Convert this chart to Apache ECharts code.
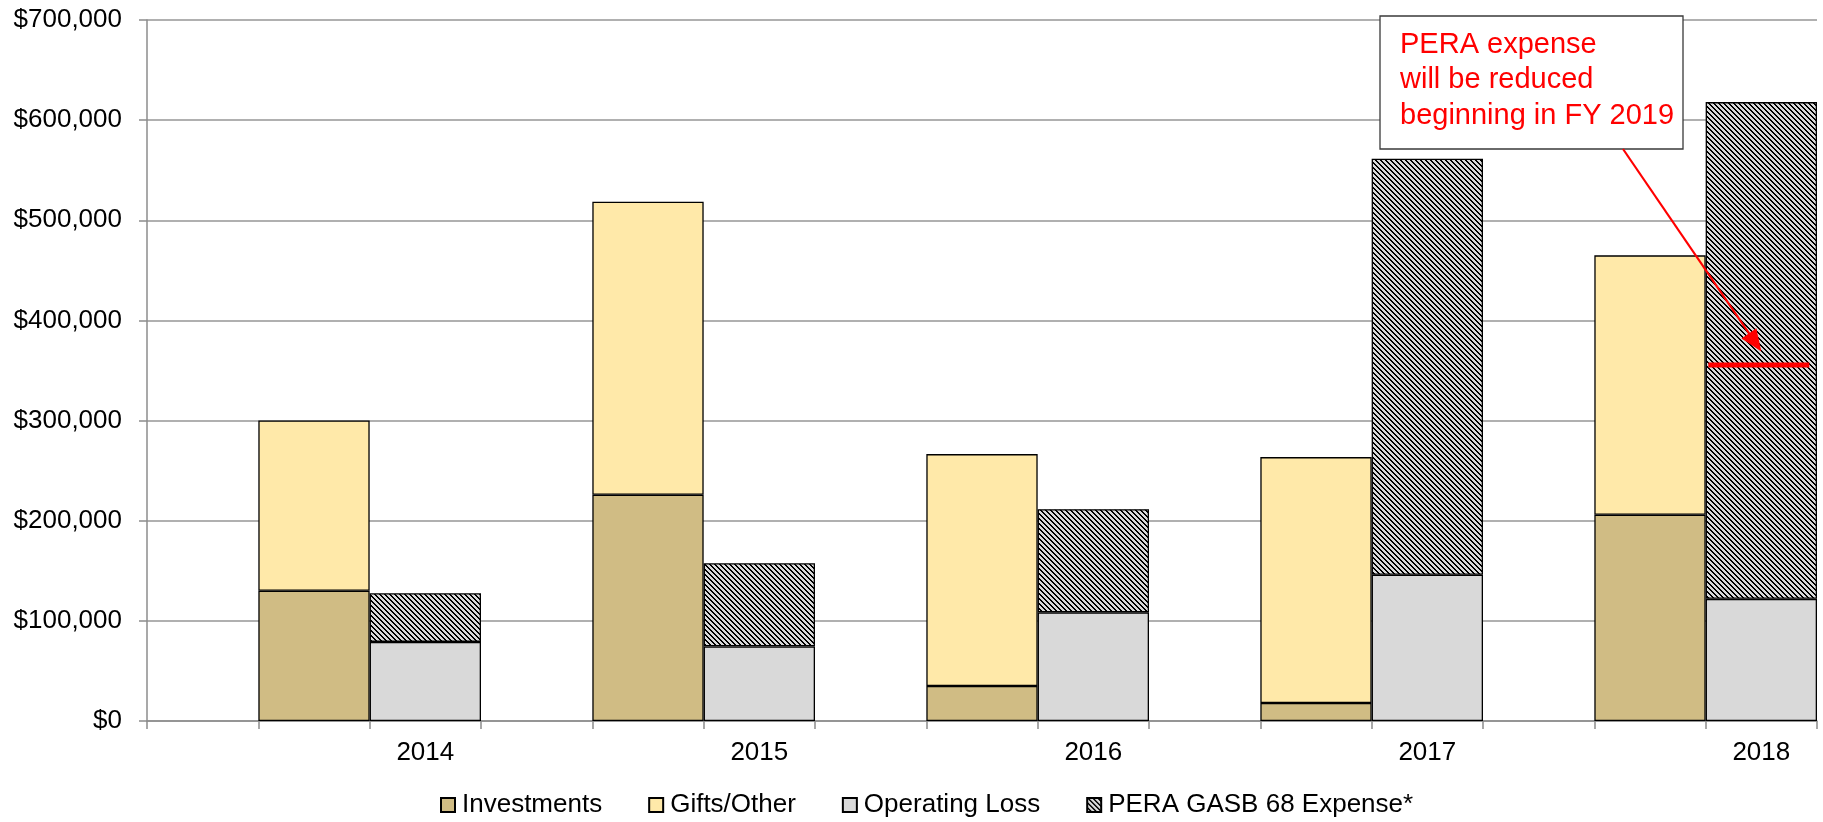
<!DOCTYPE html>
<html>
<head>
<meta charset="utf-8">
<script src="https://cdn.jsdelivr.net/npm/echarts@6/dist/echarts.min.js"></script>
<style>
  html, body { margin: 0; padding: 0; background: #fff; }
  #chart { width: 1823px; height: 822px; }
</style>
</head>
<body>
<div id="chart"></div>
<script>
// ---- data ----
const years = ['2014', '2015', '2016', '2017', '2018'];
const investments = [130000, 226000, 35000, 18000, 206000];
const giftsOther = [170000, 292500, 231500, 245500, 259000];
const operatingLoss = [79000, 74500, 108500, 146000, 122000];
const peraExpense = [48500, 83000, 103000, 415500, 496000];
const yTicks = { min: 0, max: 700000, interval: 100000 };
const seriesNames = ['Investments', 'Gifts/Other', 'Operating Loss', 'PERA GASB 68 Expense*'];
const noteText = ['PERA expense', 'will be reduced', 'beginning in FY 2019'];
const reducedPera = 355500;   // level of the red line on the 2018 PERA bar
const arrowTipValue = 369000; // arrow points to this level

// ---- build category slots: gap, left stack, right stack for each year ----
const cats = [];
years.forEach(y => { cats.push(y + '|gap', y + '|L', y + '|R'); });
function slot(arr, side) {
  const out = [];
  years.forEach((y, i) => {
    out.push('-');
    out.push(side === 'L' ? arr[i] : '-');
    out.push(side === 'R' ? arr[i] : '-');
  });
  return out;
}

// hatch pattern
function hatch() {
  const n = 5;
  const c = document.createElement('canvas');
  c.width = n; c.height = n;
  const ctx = c.getContext('2d');
  ctx.fillStyle = '#d9d9d9';
  ctx.fillRect(0, 0, n, n);
  ctx.fillStyle = '#000';
  for (let i = 0; i < n; i++) {
    ctx.fillRect(i, i, 1, 1);
    ctx.fillRect((i + 1) % n, i, 1, 1);
  }
  return c;
}

const FONT = '"Liberation Sans", Arial, sans-serif';
const border = { borderColor: '#000', borderWidth: 1.3 };

const chart = echarts.init(document.getElementById('chart'), null, { renderer: 'canvas' });
const option = {
  animation: false,
  backgroundColor: '#fff',
  textStyle: { fontFamily: FONT },
  grid: { left: 147, right: 6, top: 20, bottom: 101, outerBoundsMode: 'none' },
  legend: {
    top: 787,
    left: 435,
    icon: 'rect',
    itemWidth: 14,
    itemHeight: 14,
    itemGap: 46,
    textStyle: { fontSize: 26, color: '#000', fontFamily: FONT, padding: [0, 0, 0, 2] },
    data: seriesNames
  },
  xAxis: {
    type: 'category',
    data: cats,
    boundaryGap: true,
    axisLine: { show: true, lineStyle: { color: '#8c8c8c', width: 1.5 } },
    axisTick: { show: true, interval: 0, length: 8, lineStyle: { color: '#8c8c8c', width: 1.5 } },
    axisLabel: {
      interval: 0,
      margin: 19,
      fontSize: 26,
      color: '#000',
      fontFamily: FONT,
      formatter: v => v.endsWith('|R') ? v.split('|')[0] : ''
    },
    splitLine: { show: false }
  },
  yAxis: {
    type: 'value',
    min: yTicks.min,
    max: yTicks.max,
    interval: yTicks.interval,
    axisLine: { show: true, lineStyle: { color: '#8c8c8c', width: 1.5 } },
    axisTick: { show: true, length: 8, lineStyle: { color: '#8c8c8c', width: 1.5 } },
    axisLabel: {
      margin: 25,
      fontSize: 26,
      color: '#000',
      fontFamily: FONT,
      formatter: v => '$' + v.toLocaleString('en-US')
    },
    splitLine: { show: true, lineStyle: { color: '#969696', width: 1.5 } }
  },
  series: [
    { name: seriesNames[0], type: 'bar', stack: 'S', barCategoryGap: '0%', data: slot(investments, 'L'),
      itemStyle: Object.assign({ color: '#d0bc84' }, border) },
    { name: seriesNames[1], type: 'bar', stack: 'S', barCategoryGap: '0%', data: slot(giftsOther, 'L'),
      itemStyle: Object.assign({ color: '#ffe9a9' }, border) },
    { name: seriesNames[2], type: 'bar', stack: 'S', barCategoryGap: '0%', data: slot(operatingLoss, 'R'),
      itemStyle: Object.assign({ color: '#d9d9d9' }, border) },
    { name: seriesNames[3], type: 'bar', stack: 'S', barCategoryGap: '0%', data: slot(peraExpense, 'R'),
      itemStyle: Object.assign({ color: { image: hatch(), repeat: 'repeat' } }, border) }
  ]
};
chart.setOption(option);

// ---- annotations ----
const lastIdx = cats.length - 1;
const redLvl = chart.convertToPixel({ gridIndex: 0 }, [lastIdx, reducedPera]);
const tipPt = chart.convertToPixel({ gridIndex: 0 }, [lastIdx, arrowTipValue]);
const box = { x: 1380, y: 16, w: 303, h: 133 };
const start = [1623, box.y + box.h];
const tip = [tipPt[0], tipPt[1]];
const dx = tip[0] - start[0], dy = tip[1] - start[1];
const len = Math.sqrt(dx * dx + dy * dy);
const ux = dx / len, uy = dy / len;
const headL = 22, headW = 9;
const base = [tip[0] - ux * headL, tip[1] - uy * headL];
const nx = -uy, ny = ux;

chart.setOption({
  graphic: [
    { type: 'rect', shape: { x: box.x, y: box.y, width: box.w, height: box.h },
      style: { fill: '#fff', stroke: '#3a3a3a', lineWidth: 1.3 }, z: 100 },
    { type: 'text', x: 1400, y: 27, z: 101,
      style: { text: noteText.join('\n'), fill: '#ff0000', font: '29px ' + FONT, lineHeight: 35.5,
               textAlign: 'left', textVerticalAlign: 'top' } },
    { type: 'line', z: 100, shape: { x1: start[0], y1: start[1], x2: base[0] + ux * 2, y2: base[1] + uy * 2 },
      style: { stroke: '#ff0000', lineWidth: 2.2 } },
    { type: 'polygon', z: 100,
      shape: { points: [tip, [base[0] + nx * headW, base[1] + ny * headW], [base[0] - nx * headW, base[1] - ny * headW]] },
      style: { fill: '#ff0000' } },
    { type: 'line', z: 100, shape: { x1: redLvl[0] - 53, y1: redLvl[1], x2: redLvl[0] + 48, y2: redLvl[1] },
      style: { stroke: '#ff0000', lineWidth: 5 } }
  ]
});
</script>
</body>
</html>
